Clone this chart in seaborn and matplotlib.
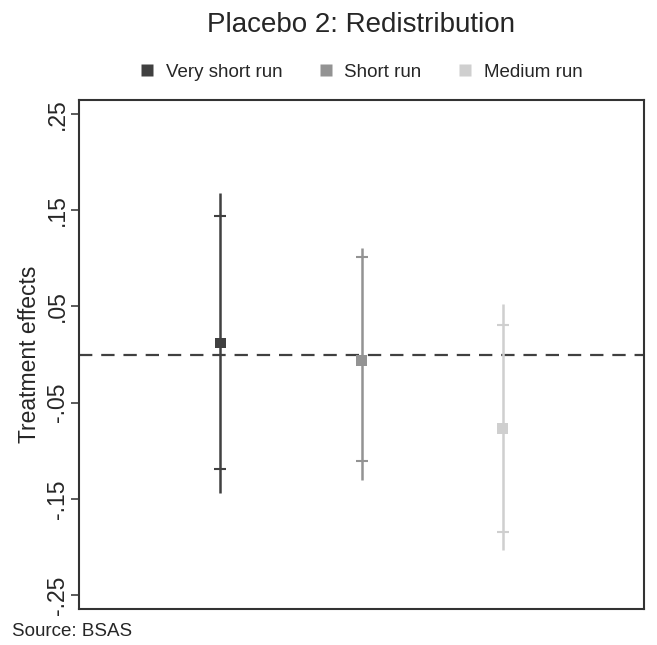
import matplotlib
matplotlib.use("Agg")
import matplotlib.pyplot as plt
import seaborn as sns
import pandas as pd
from matplotlib.lines import Line2D

categories = ["Very short run", "Short run", "Medium run"]
estimates = [0.012, -0.006, -0.077]
ci90_low = [-0.119, -0.111, -0.185]
ci90_high = [0.144, 0.101, 0.031]
ci95_low = [-0.144, -0.131, -0.203]
ci95_high = [0.168, 0.111, 0.052]
yticks = [0.25, 0.15, 0.05, -0.05, -0.15, -0.25]
ytick_labels = [".25", ".15", ".05", "-.05", "-.15", "-.25"]
colors = ["#404040", "#939393", "#cfcfcf"]

df = pd.DataFrame({
    "category": categories,
    "pos": [1, 2, 3],
    "est": estimates,
    "lo90": ci90_low, "hi90": ci90_high,
    "lo95": ci95_low, "hi95": ci95_high,
})

sns.set_style("white")
plt.rcParams["font.family"] = ["Liberation Sans", "DejaVu Sans"]

fig = plt.figure(figsize=(6.57, 6.45), dpi=100)
ax = fig.add_axes([79/657, 36/645, 565/657, 509/645])

ax.axhline(0, color="#404040", lw=1.6, ls=(0, (6, 4)), zorder=1)

for i, row in df.iterrows():
    c = colors[i]
    ax.vlines(row["pos"], row["lo95"], row["hi95"], color=c, lw=1.8, zorder=2)
    ax.errorbar(row["pos"], row["est"],
                yerr=[[row["est"] - row["lo90"]], [row["hi90"] - row["est"]]],
                fmt="none", ecolor=c, elinewidth=0, capsize=4.5, capthick=1.5, zorder=2)

sns.scatterplot(data=df, x="pos", y="est", hue="category", palette=colors,
                marker="s", s=60, edgecolor="none", legend=False, ax=ax, zorder=3)

ax.set_xlim(0, 4)
ax.set_ylim(-0.2646, 0.2646)
ax.set_xticks([])
ax.set_yticks(yticks)
ax.set_yticklabels(ytick_labels, rotation=90, va="center", fontsize=16.5)
ax.tick_params(axis="y", left=True, length=6, width=1.2, color="#404040", pad=1)
ax.set_xlabel("")
ax.set_ylabel("Treatment effects", fontsize=16.5, labelpad=4)
for s in ax.spines.values():
    s.set_color("#333333")
    s.set_linewidth(1.5)

fig.text(0.55, 1 - 25/645, "Placebo 2: Redistribution", ha="center", va="center", fontsize=20)

handles = [Line2D([0], [0], marker="s", color="none", markerfacecolor=c,
                  markeredgecolor="none", markersize=8) for c in colors]
fig.legend(handles, categories, loc="center", bbox_to_anchor=(360/657, 1 - 72/645),
           ncol=3, frameon=False, fontsize=13.5, handletextpad=0.5,
           columnspacing=1.8, handlelength=1.0)

fig.text(12/657, 1 - 632/645, "Source: BSAS", ha="left", va="center", fontsize=13.5)

fig.savefig("out.png", dpi=100)
